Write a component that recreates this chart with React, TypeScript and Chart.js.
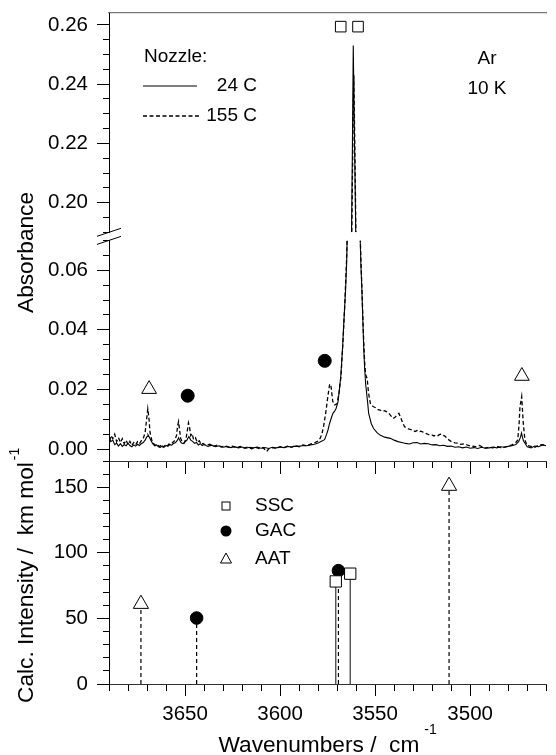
import React, { useEffect, useRef } from 'react';
import { Chart, registerables } from 'chart.js';

Chart.register(...registerables);

const FONT = '"Liberation Sans", Arial, Helvetica, sans-serif';

// ---------- Data (wavenumber / cm-1, absorbance) ----------
const spectrum24C: [number, number][] = [
  [3690, 0.004], [3689, 0.0025], [3688, 0.003], [3687, 0.0015], [3686, 0.002], [3685, 0.001],
  [3684, 0.0018], [3683, 0.0009], [3682, 0.0015], [3681, 0.0011], [3680, 0.002], [3679, 0.0012],
  [3678, 0.0008], [3677, 0.0014], [3676, 0.001], [3675, 0.0016], [3674, 0.0012], [3673, 0.0018],
  [3672, 0.0022], [3671, 0.003], [3670, 0.0042], [3669.5, 0.0048], [3669, 0.0042], [3668, 0.003],
  [3667, 0.0018], [3666, 0.0011], [3665, 0.0014], [3664, 0.0008], [3663, 0.0006], [3662, 0.0011],
  [3661, 0.0007], [3660, 0.0012], [3659, 0.0009], [3658, 0.0015], [3657, 0.0013], [3656, 0.0019],
  [3655, 0.0022], [3654, 0.003], [3653.4, 0.0038], [3653, 0.0032], [3652, 0.0021], [3651, 0.0018],
  [3650, 0.0024], [3649, 0.003], [3648, 0.0042], [3647.5, 0.0036], [3647, 0.003], [3646, 0.0026],
  [3645, 0.0019], [3644, 0.0022], [3643, 0.0014], [3642, 0.0018], [3641, 0.0012], [3640, 0.0015],
  [3638, 0.0009], [3636, 0.0013], [3634, 0.0008], [3632, 0.0011], [3630, 0.0006], [3628, 0.0009],
  [3626, 0.0005], [3624, 0.0008], [3622, 0.0004], [3620, 0.0007], [3618, 0.0003], [3616, 0.0006],
  [3614, 0.0004], [3612, 0.0007], [3610, 0.0003], [3608, 0.0005], [3606, 0.0002], [3604, 0.0006],
  [3602, 0.0004], [3600, 0.0007], [3598, 0.0005], [3596, 0.0009], [3594, 0.0007], [3592, 0.001],
  [3590, 0.0009], [3588, 0.0012], [3586, 0.0011], [3584, 0.0014], [3582, 0.0016], [3580, 0.002],
  [3579, 0.0024], [3578, 0.0027], [3577, 0.003], [3576.5, 0.0033], [3575.5, 0.005], [3574.8, 0.0064],
  [3574, 0.0085], [3573, 0.0105], [3572.2, 0.012], [3571.3, 0.0127], [3570.5, 0.0137], [3569.5, 0.016],
  [3568.8, 0.0198], [3568, 0.025], [3567.1, 0.0343], [3566.5, 0.042], [3566, 0.048], [3565.5, 0.054],
  [3565, 0.062], [3564.5, 0.076], [3564, 0.096], [3563.5, 0.122], [3563, 0.15], [3562.5, 0.185],
  [3562, 0.215], [3561.5, 0.253], [3561, 0.228], [3560.5, 0.205], [3560, 0.18], [3559.5, 0.15],
  [3559, 0.122], [3558.5, 0.098], [3558, 0.074], [3557.5, 0.062], [3557, 0.054], [3556.5, 0.044],
  [3556, 0.034], [3555.5, 0.027], [3555, 0.022], [3554, 0.016], [3553.4, 0.012], [3552, 0.0085],
  [3550.8, 0.0069], [3549, 0.0055], [3547.4, 0.0047], [3545, 0.004], [3542, 0.0036], [3540, 0.003],
  [3538, 0.0025], [3536, 0.0022], [3534, 0.0019], [3532, 0.0017], [3530, 0.0021], [3528, 0.0022],
  [3526, 0.0017], [3524, 0.0019], [3522, 0.0018], [3520, 0.0014], [3518, 0.0015], [3516, 0.0011],
  [3514, 0.0013], [3512, 0.0009], [3510, 0.001], [3508, 0.0006], [3506, 0.0008], [3504, 0.0004],
  [3502, 0.0007], [3500, 0.0003], [3498, 0.0005], [3496, 0.0002], [3494, 0.0006], [3492, 0.0003],
  [3490, 0.0004], [3488, 0.0007], [3486, 0.0004], [3484, 0.0008], [3482, 0.0006], [3480, 0.0009],
  [3478, 0.0011], [3476, 0.0015], [3474.5, 0.0025], [3473.5, 0.004], [3473, 0.0054], [3472.5, 0.004],
  [3472, 0.0028], [3471, 0.0018], [3470, 0.0008], [3468, 0.0004], [3466, 0.001], [3464, 0.0008],
  [3462, 0.0014], [3460, 0.0011],
];

const spectrum155C: [number, number][] = [
  [3690, 0.0055], [3689.5, 0.003], [3689, 0.0045], [3688, 0.0035], [3687, 0.005], [3686, 0.0025],
  [3685, 0.0038], [3684, 0.0022], [3683, 0.0035], [3682, 0.0018], [3681, 0.003], [3680, 0.0015],
  [3679, 0.0026], [3678, 0.0012], [3677, 0.0022], [3676, 0.0014], [3675, 0.0025], [3674, 0.0018],
  [3673, 0.0028], [3672, 0.0035], [3671, 0.0055], [3670.3, 0.0095], [3669.6, 0.0135], [3669, 0.0105],
  [3668.4, 0.0055], [3667.5, 0.003], [3666.5, 0.0018], [3665.5, 0.0012], [3664.5, 0.0016], [3663.5, 0.0008],
  [3662.5, 0.0014], [3661.5, 0.0006], [3660.5, 0.0012], [3659.5, 0.0009], [3658.5, 0.0017], [3657.5, 0.0014],
  [3656.5, 0.0022], [3655.5, 0.0028], [3654.5, 0.0045], [3653.9, 0.0078], [3653.4, 0.0092], [3652.9, 0.0065],
  [3652.3, 0.0035], [3651.5, 0.0025], [3650.5, 0.002], [3649.5, 0.0034], [3648.8, 0.0062], [3648.2, 0.0088],
  [3647.6, 0.0072], [3647, 0.0045], [3646.3, 0.0052], [3645.5, 0.0032], [3644.5, 0.0038], [3643.5, 0.0022],
  [3642.5, 0.0028], [3641.5, 0.0016], [3640.5, 0.0019], [3639, 0.0012], [3637, 0.0016], [3635, 0.0009],
  [3633, 0.0013], [3631, 0.0007], [3629, 0.0011], [3627, 0.0006], [3625, 0.001], [3623, 0.0004],
  [3621, 0.0009], [3619, 0.0003], [3617, 0.0007], [3615, 0.0001], [3613, 0.0006], [3611, 0.0002],
  [3609, 0.0005], [3607, -0.0008], [3606, 0.0001], [3604, 0.0005], [3602, 0.0002], [3600, 0.0008],
  [3598, 0.0004], [3596, 0.001], [3594, 0.0006], [3592, 0.0012], [3590, 0.0008], [3588, 0.0014],
  [3586, 0.0011], [3584, 0.0017], [3582, 0.0021], [3580, 0.0027], [3579, 0.0035], [3578, 0.005],
  [3577, 0.008], [3576, 0.012], [3575, 0.017], [3574, 0.0215], [3573.4, 0.0218], [3573, 0.02],
  [3572.3, 0.016], [3571.3, 0.0148], [3570, 0.0152], [3569, 0.019], [3568, 0.024], [3567, 0.035],
  [3566, 0.048], [3565, 0.064], [3564.5, 0.077], [3564, 0.095], [3563.5, 0.118], [3563, 0.145],
  [3562.5, 0.175], [3562, 0.205], [3561.5, 0.232], [3561.2, 0.243], [3560.8, 0.225], [3560.3, 0.2],
  [3560, 0.182], [3559.5, 0.152], [3559, 0.124], [3558.5, 0.099], [3558, 0.076], [3557.5, 0.064],
  [3557, 0.055], [3556.5, 0.045], [3556, 0.036], [3555.5, 0.029], [3555, 0.025], [3554.2, 0.0237],
  [3553.5, 0.019], [3552.5, 0.0153], [3551.5, 0.0145], [3550.8, 0.0142], [3549.5, 0.0138], [3548.5, 0.0132],
  [3547.4, 0.0131], [3546, 0.0126], [3545, 0.0129], [3543.9, 0.0125], [3542.5, 0.0118], [3541.5, 0.011],
  [3540.5, 0.0103], [3539.5, 0.0107], [3538.5, 0.0114], [3537.5, 0.012], [3536.5, 0.0105], [3535.5, 0.0088],
  [3534.5, 0.0075], [3533.5, 0.0071], [3532.5, 0.0068], [3531.5, 0.0066], [3530.3, 0.0064], [3529, 0.0059],
  [3528, 0.0062], [3527, 0.0058], [3526, 0.006], [3525.1, 0.0058], [3524, 0.0054], [3523, 0.0052],
  [3522, 0.0049], [3521, 0.0046], [3520, 0.0047], [3519, 0.0044], [3518, 0.0048], [3517, 0.0045],
  [3516, 0.0049], [3515, 0.005], [3514, 0.0046], [3513, 0.0042], [3512.3, 0.0036], [3511, 0.003],
  [3509.7, 0.0024], [3508, 0.0021], [3506.3, 0.002], [3505, 0.0016], [3503, 0.0018], [3501, 0.0012],
  [3499.4, 0.001], [3497, 0.0008], [3495, 0.0012], [3492.5, 0.0003], [3490, 0.0006], [3488, 0.0004],
  [3486, 0.0009], [3484, 0.0005], [3482.3, 0.0006], [3480, 0.001], [3478, 0.0014], [3476, 0.0022],
  [3475, 0.003], [3474.3, 0.008], [3473.8, 0.0142], [3472.9, 0.0176], [3472.1, 0.009], [3471.2, 0.003],
  [3470, 0.0012], [3468.6, 0.001], [3466, 0.0006], [3464, 0.0013], [3462, 0.0015], [3460, 0.0012],
];

// Assignment markers on the experimental spectrum
const obsSSCWn = [3568.1, 3559.0];
const obsSSCAbs = [0.2594, 0.2594];
const obsGACWn = [3648.6, 3576.5];
const obsGACAbs = [0.0179, 0.0296];
const obsAATWn = [3668.9, 3472.8];
const obsAATAbs = [0.0201, 0.0245];

// Calculated stick spectrum (km/mol)
const calcSSCWn = [3570.7, 3563.1];
const calcSSCInt = [78.2, 84.1];
const calcGACWn = [3643.9, 3569.3];
const calcGACInt = [50.3, 86.4];
const calcAATWn = [3673.2, 3511.1];
const calcAATInt = [61, 151];

const conformerLabels = ['SSC', 'GAC', 'AAT'];
const nozzleLabels = ['24 C', '155 C'];
const matrixLabels = ['Ar', '10 K'];

// Axis ranges / ticks
const X_MIN = 3460, X_MAX = 3690, X_MINOR = 10, X_MAJOR = 50;
const YU_MIN = 0.19, YU_MAX = 0.264;
const YL_MIN = -0.004, YL_MAX = 0.07;
const Y_MINOR = 0.005, Y_MAJOR = 0.02;
const YB_MIN = 0, YB_MAX = 170, YB_MINOR = 10, YB_MAJOR = 50;

// ---------- helpers ----------
const isMult = (v: number, step: number) => Math.abs(v / step - Math.round(v / step)) < 1e-6;
const pts = (xs: number[], ys: number[]) => xs.map((x, i) => ({ x, y: ys[i] }));
const pairPts = (arr: [number, number][]) => arr.map(([x, y]) => ({ x, y }));
const sticks = (xs: number[], ys: number[]) => {
  const out: { x: number; y: number | null }[] = [];
  xs.forEach((x, i) => { out.push({ x, y: 0 }, { x, y: ys[i] }, { x, y: null }); });
  return out;
};

const LEFT_W = 109;
const BOTTOM_H = 71;
const TICK_FONT = { family: FONT, size: 20.5 };

const yAxis = (min: number, max: number, minor: number, major: number, weight: number, stackWeight: number, fmt: (v: number) => string) => ({
  type: 'linear',
  axis: 'y',
  position: 'left',
  stack: 'left',
  stackWeight,
  weight,
  min,
  max,
  display: true,
  border: { display: true, color: '#000', width: 1 },
  grid: {
    display: true,
    drawOnChartArea: false,
    drawTicks: true,
    tickLength: 12,
    tickColor: '#000',
    tickWidth: 1,
    tickBorderDash: (c: any) => (c.tick && isMult(c.tick.value, major) ? [] : [0, 6, 6, 100]),
  },
  ticks: {
    stepSize: minor,
    includeBounds: false,
    autoSkip: false,
    padding: 9,
    color: '#000',
    font: TICK_FONT,
    callback: (v: number) => (isMult(v, major) ? fmt(v) : ''),
  },
  afterFit: (s: any) => { s.width = LEFT_W; s.paddingTop = 0; s.paddingBottom = 0; },
});

const overlayPlugin = {
  id: 'overlay',
  beforeDatasetDraw(chart: any, args: any) {
    const ys = args.meta.yScale;
    const ca = chart.chartArea;
    const ctx = chart.ctx;
    ctx.save();
    ctx.beginPath();
    ctx.rect(ca.left, ys.top, ca.right - ca.left, ys.bottom - ys.top);
    ctx.clip();
  },
  afterDatasetDraw(chart: any) {
    chart.ctx.restore();
  },
  afterDraw(chart: any) {
    const ctx = chart.ctx as CanvasRenderingContext2D;
    const ca = chart.chartArea;
    const { yu, yl } = chart.scales;
    ctx.save();
    ctx.fillStyle = '#000';
    ctx.strokeStyle = '#000';
    ctx.lineWidth = 1;

    // axis break marks
    ctx.beginPath();
    ctx.moveTo(ca.left - 12, yu.bottom + 4);
    ctx.lineTo(ca.left + 12, yu.bottom - 4);
    ctx.moveTo(ca.left - 12, yl.top + 4);
    ctx.lineTo(ca.left + 12, yl.top - 4);
    ctx.stroke();

    // axis titles
    const big = `22.7px ${FONT}`;
    const small = `14px ${FONT}`;
    ctx.textBaseline = 'alphabetic';
    ctx.textAlign = 'left';

    // x title
    const xMain = 'Wavenumbers /  cm';
    const sup = '-1';
    ctx.font = big;
    const w1 = ctx.measureText(xMain).width;
    ctx.font = small;
    const w2 = ctx.measureText(sup).width;
    const gap = 5;
    const xStart = (ca.left + ca.right) / 2 - (w1 + w2 + gap) / 2;
    ctx.font = big;
    ctx.fillText(xMain, xStart, 752);
    ctx.font = small;
    ctx.fillText(sup, xStart + w1 + gap, 734);

    // Absorbance
    ctx.save();
    ctx.translate(33, 313);
    ctx.rotate(-Math.PI / 2);
    ctx.font = big;
    ctx.fillText('Absorbance', 0, 0);
    ctx.restore();

    // Calc. Intensity
    ctx.save();
    ctx.translate(33, 703);
    ctx.rotate(-Math.PI / 2);
    ctx.font = big;
    const cMain = 'Calc. Intensity /  km mol';
    const cw = ctx.measureText(cMain).width;
    ctx.fillText(cMain, 0, 0);
    ctx.font = small;
    ctx.fillText(sup, cw + 2, -14);
    ctx.restore();

    // Nozzle legend
    ctx.font = `19px ${FONT}`;
    ctx.textBaseline = 'middle';
    ctx.textAlign = 'left';
    ctx.fillText('Nozzle:', 144, 57);
    ctx.textAlign = 'right';
    ctx.fillText(nozzleLabels[0], 257, 86);
    ctx.fillText(nozzleLabels[1], 257, 116);
    ctx.lineWidth = 1.1;
    ctx.beginPath();
    ctx.moveTo(143, 86);
    ctx.lineTo(197, 86);
    ctx.stroke();
    ctx.setLineDash([4, 2.5]);
    ctx.lineWidth = 1.3;
    ctx.beginPath();
    ctx.moveTo(143, 116);
    ctx.lineTo(199, 116);
    ctx.stroke();
    ctx.setLineDash([]);

    // Ar / 10 K
    ctx.textAlign = 'center';
    ctx.fillText(matrixLabels[0], 487, 59);
    ctx.fillText(matrixLabels[1], 487, 89);

    // conformer legend
    const lx = 226;
    const ly = [506, 531, 559];
    ctx.lineWidth = 1;
    ctx.strokeRect(lx - 4, ly[0] - 4, 8, 8);
    ctx.beginPath();
    ctx.arc(lx, ly[1], 5.5, 0, Math.PI * 2);
    ctx.fill();
    ctx.beginPath();
    ctx.moveTo(lx, ly[2] - 6);
    ctx.lineTo(lx + 5.5, ly[2] + 4);
    ctx.lineTo(lx - 5.5, ly[2] + 4);
    ctx.closePath();
    ctx.stroke();
    ctx.textAlign = 'left';
    conformerLabels.forEach((t, i) => ctx.fillText(t, 255, ly[i]));

    ctx.restore();
  },
};

export default function App() {
  const ref = useRef<HTMLCanvasElement>(null);

  useEffect(() => {
    if (!ref.current) return;
    Chart.defaults.font.family = FONT;

    const marker = (data: any[], yAxisID: string, pointStyle: string, radius: number, fill: string) => ({
      type: 'line',
      data,
      yAxisID,
      xAxisID: 'x',
      showLine: false,
      pointStyle,
      pointRadius: radius,
      pointBackgroundColor: fill,
      pointBorderColor: '#000',
      pointBorderWidth: 1,
    });
    const line = (data: any[], yAxisID: string, color: string, width: number, dash: number[]) => ({
      type: 'line',
      data,
      yAxisID,
      xAxisID: 'x',
      borderColor: color,
      borderWidth: width,
      borderDash: dash,
      pointRadius: 0,
      tension: 0,
      fill: false,
      spanGaps: false,
    });

    const solid = pairPts(spectrum24C);
    const dashed = pairPts(spectrum155C);

    const chart = new Chart(ref.current, {
      type: 'line',
      data: {
        datasets: [
          marker(pts(obsSSCWn, obsSSCAbs), 'yu', 'rect', 7.5, '#fff'),
          marker(pts(obsGACWn, obsGACAbs), 'yl', 'circle', 6.5, '#000'),
          marker(pts(obsAATWn, obsAATAbs), 'yl', 'triangle', 8.5, '#fff'),
          marker(pts(calcSSCWn, calcSSCInt), 'yb', 'rect', 8, '#fff'),
          marker(pts(calcGACWn, calcGACInt), 'yb', 'circle', 6.3, '#000'),
          marker(pts(calcAATWn, calcAATInt), 'yb', 'triangle', 8.8, '#fff'),
          line(sticks(calcSSCWn, calcSSCInt), 'yb', '#333', 1.2, []),
          line(sticks(calcGACWn, calcGACInt), 'yb', '#000', 1.2, [4, 3]),
          line(sticks(calcAATWn, calcAATInt), 'yb', '#000', 1.2, [4, 3]),
          line(solid, 'yu', '#000', 1.1, []),
          line(solid, 'yl', '#000', 1.1, []),
          line(dashed, 'yu', '#000', 1.3, [4, 2.5]),
          line(dashed, 'yl', '#000', 1.3, [4, 2.5]),
        ] as any,
      },
      options: {
        animation: false,
        responsive: false,
        maintainAspectRatio: false,
        layout: { padding: { top: 13, left: 0, right: 0, bottom: 0 } },
        plugins: { legend: { display: false }, tooltip: { enabled: false } },
        scales: {
          x: {
            type: 'linear',
            axis: 'x',
            position: 'bottom',
            reverse: true,
            min: X_MIN,
            max: X_MAX,
            border: { display: true, color: '#333', width: 1 },
            grid: {
              display: true,
              drawOnChartArea: false,
              drawTicks: true,
              tickLength: 12,
              tickColor: '#000',
              tickBorderDash: (c: any) => (c.tick && isMult(c.tick.value, X_MAJOR) ? [] : [6, 100]),
            },
            ticks: {
              stepSize: X_MINOR,
              includeBounds: false,
              autoSkip: false,
              maxRotation: 0,
              padding: 6,
              color: '#000',
              font: TICK_FONT,
              callback: (v: number) => (isMult(v, X_MAJOR) ? String(v) : ''),
            },
            afterFit: (s: any) => { s.height = BOTTOM_H; s.paddingLeft = 0; s.paddingRight = 0; },
          },
          xm: {
            type: 'linear',
            axis: 'x',
            position: { yb: YB_MAX },
            reverse: true,
            min: X_MIN,
            max: X_MAX,
            display: true,
            border: { display: true, color: '#333', width: 1 },
            grid: {
              display: true,
              drawOnChartArea: false,
              drawTicks: true,
              tickLength: 12,
              tickColor: '#000',
              tickBorderDash: (c: any) => (c.tick && isMult(c.tick.value, X_MAJOR) ? [] : [6, 100]),
            },
            ticks: { display: false, stepSize: X_MINOR, includeBounds: false, autoSkip: false },
            afterFit: (s: any) => { s.paddingLeft = 0; s.paddingRight = 0; },
          },
          xt: {
            type: 'linear',
            axis: 'x',
            position: { yu: YU_MAX },
            reverse: true,
            min: X_MIN,
            max: X_MAX,
            display: true,
            border: { display: true, color: '#777', width: 1.2 },
            grid: { display: false, drawTicks: false },
            ticks: { display: false },
            afterFit: (s: any) => { s.paddingLeft = 0; s.paddingRight = 0; },
          },
          yu: yAxis(YU_MIN, YU_MAX, Y_MINOR, Y_MAJOR, 4, 219.3, (v) => v.toFixed(2)),
          yg: {
            type: 'linear',
            axis: 'y',
            position: 'left',
            stack: 'left',
            stackWeight: 8.1,
            weight: 3,
            min: 0,
            max: 1,
            display: true,
            border: { display: false },
            grid: { display: false, drawTicks: false },
            ticks: { display: false },
            afterFit: (s: any) => { s.width = LEFT_W; s.paddingTop = 0; s.paddingBottom = 0; },
          },
          yl: yAxis(YL_MIN, YL_MAX, Y_MINOR, Y_MAJOR, 2, 220.6, (v) => Math.abs(v).toFixed(2)),
          yb: yAxis(YB_MIN, YB_MAX, YB_MINOR, YB_MAJOR, 1, 223, (v) => String(Math.round(v))),
        } as any,
      },
      plugins: [overlayPlugin],
    } as any);

    return () => chart.destroy();
  }, []);

  return (
    <div style={{ position: 'fixed', left: 0, top: 0, width: 556, height: 755, background: '#fff' }}>
      <canvas ref={ref} width={556} height={755} style={{ display: 'block', width: 556, height: 755 }} />
    </div>
  );
}
